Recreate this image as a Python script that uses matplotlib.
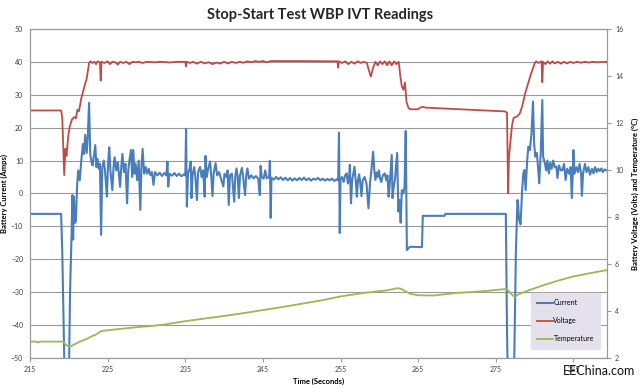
import numpy as np
import matplotlib.pyplot as plt

plt.rcParams['font.family'] = ['Lato', 'DejaVu Sans']

# current (A), left axis
cur_t = [215.0, 219.0, 219.15, 219.3, 219.45, 220.0, 220.15, 220.35, 220.45, 220.55, 220.65, 220.75, 220.9,
         221.05, 221.2, 221.4, 221.6, 221.8, 221.95, 222.1, 222.3, 222.45, 222.6, 222.75, 222.9, 223.05, 223.2,
         223.4, 223.55, 223.7, 223.85, 224.0, 224.15, 224.3, 224.5, 224.65, 224.9, 225.05, 225.2, 225.35, 225.6,
         225.75, 225.9, 226.1, 226.3, 226.6, 226.75, 226.9, 227.1, 227.3, 227.5, 227.65, 227.8, 228.0, 228.15,
         228.3, 228.45, 228.6, 228.8, 229.0, 229.2, 229.35, 229.5, 229.7, 229.9, 230.1, 230.3, 230.5, 230.7,
         230.9, 231.1, 231.4, 231.7, 232.0, 232.3, 232.55, 232.7, 232.8, 232.95, 233.3, 233.6, 233.9, 234.2,
         234.5, 234.8, 235.0, 235.1, 235.2, 235.35, 235.55, 235.7, 235.8, 235.95, 236.15, 236.3, 236.5, 236.65,
         236.9, 237.1, 237.3, 237.5, 237.6, 237.75, 237.95, 238.2, 238.35, 238.5, 238.65, 238.9, 239.1, 239.35,
         239.6, 239.9, 240.05, 240.3, 240.45, 240.6, 240.75, 241.0, 241.3, 241.45, 241.6, 241.75, 241.9, 242.05,
         242.3, 242.45, 242.7, 242.85, 243.0, 243.2, 243.5, 243.8, 244.1, 244.4, 244.6, 244.7, 244.85, 245.1,
         245.3, 245.5, 245.8, 245.9, 246.0, 246.1, 246.4, 246.7, 247.0, 247.3, 247.6, 247.9, 248.2, 248.5,
         248.8, 249.1, 249.4, 249.7, 250.0, 250.3, 250.6, 250.9, 251.2, 251.5, 251.8, 252.1, 252.4, 252.7,
         253.0, 253.3, 253.6, 253.9, 254.2, 254.5, 254.7, 254.8, 254.9, 255.0, 255.2, 255.4, 255.6, 255.8,
         255.95, 256.1, 256.2, 256.35, 256.5, 256.8, 257.0, 257.1, 257.25, 257.4, 257.55, 257.7, 257.85, 258.1,
         258.35, 258.6, 258.8, 258.95, 259.2, 259.35, 259.5, 259.65, 259.8, 259.95, 260.1, 260.25, 260.45,
         260.7, 260.9, 261.05, 261.2, 261.35, 261.6, 261.7, 261.85, 262.0, 262.3, 262.45, 262.6, 262.75, 262.9,
         263.1, 263.25, 263.4, 263.55, 263.8, 264.0, 265.5, 265.6, 268.4, 268.5, 276.3, 276.35, 276.45, 276.55,
         277.35, 277.6, 277.8, 277.9, 278.0, 278.2, 278.4, 278.55, 278.7, 278.85, 279.05, 279.2, 279.4, 279.6,
         279.8, 279.95, 280.1, 280.3, 280.45, 280.6, 280.8, 281.0, 281.1, 281.3, 281.5, 281.65, 281.85, 282.0,
         282.2, 282.4, 282.6, 282.8, 282.95, 283.15, 283.4, 283.6, 283.8, 284.0, 284.2, 284.45, 284.65, 284.8,
         284.95, 285.0, 285.15, 285.4, 285.6, 285.8, 286.0, 286.1, 286.25, 286.5, 286.7, 286.95, 287.15, 287.4,
         287.6, 287.8, 288.0, 288.2, 288.4, 288.6, 288.8, 289.0, 289.3]
cur_a = [-6.2, -6.2, -18, -37, -56, -56, -30, -12, -0.5, -14, -1, -9, -8.5,
         2, 7, 4, 10, 15, 12, 17.8, 12.3, 18, 27.5, 12, 9.7, 8.5, 11,
         14.7, 8, 10.5, 7.5, 9, -12.6, 8, 10, 7, -1, 9, 14, 7, 1,
         8, 11, 7, 9.5, 2, 8, 12, 6.5, 9, -3, 7, 10, 13.2, 5,
         13.2, 6, 9, 4, 10, -5, 8, 13.5, 6, 8, 6, 7.5, 5.6, 6.5,
         2.6, 6.5, 5.5, 6.3, 5.3, 6.2, 5.5, 9.7, 2.1, 6, 5.4, 6.2, 5.3, 6,
         5.2, 5.8, 5.5, 19.6, -4, 6, 7.5, 9.7, -1.4, 6, 8, 5, -2, 6.5,
         8.1, 5, 7, -1, 11.4, 5, 7.5, 9.7, 5, -0.8, 6, 9.2, 5.5, 6.5,
         4.5, 2.1, 6, 5, 7, -3.5, 5.5, 6, -2.5, 5.5, 7.6, 5, -1.4, 5.5,
         7.8, 5, -0.5, 5.5, 7.6, 4.5, 5.5, 4.6, 5.3, 4.4, -0.5, 8.4, 5, 4.5,
         7, 4.6, 5, 9.9, -7.4, 4.8, 4.2, 5, 4.3, 4.9, 4.1, 4.8, 4.0, 4.7,
         3.9, 4.6, 4.0, 4.7, 4.1, 4.8, 4.0, 4.6, 3.9, 4.5, 4.2, 4.7, 4.0, 4.5,
         3.9, 4.4, 4.0, 4.5, 3.8, 4.3, 4.0, 18.5, -12, 4.2, 5, 3.5, 5.5, 6.1,
         3, 4.5, 8.7, -3, 4, 8.1, 3, -1, 4, 5.8, 3, -0.8, 4, 5,
         3, -4.5, 3, 6.5, 12.7, 7, 4.1, 6.4, 5, 7, 4.5, 3.5, 5.5,
         6.1, 4, 5.5, -1, 3, 11.7, -1.4, 2, 4, 12.3, -5.5, -2, -8.9, 1,
         0, 2, 19, -17.2, -16.5, -16.2, -16.3, -6.8, -6.8, -6.2, -6.2, -18, -41, -56,
         -56, -17.2, -2, -3.8, -8, -9.4, 1, 6.1, 7.1, 1, 10, 14.2, 13.2, 18,
         27.9, 15, 11.2, 12.3, 8, 3.1, 12.3, 28.4, 11.2, 9.5, 7, 10, 6.1, 9.3,
         7.5, 10, 8, 8.2, 4.7, 8.5, 7, 7.1, 9, 4.1, 7.5, 6, 8, -1.4,
         7, 13.2, 6, 8, 6.5, 9, 6, -0.7, 6, 9, 6.5, 8, 5.7, 7.5,
         6.1, 8, 6.5, 7.5, 6.8, 7.6, 6.5, 7.3, 7.0]

# voltage (V), right axis
volt_t = [215.0, 219.0, 219.15, 219.25, 219.4, 219.55, 219.7, 219.9, 220.1, 220.4, 220.7, 220.9, 221.1, 221.3,
          221.6, 222.0, 222.3, 222.6, 222.8, 223.0, 223.3, 223.5, 223.7, 224.0, 224.1, 224.2, 224.6, 225.0,
          225.3, 225.6, 226.0, 226.3, 226.6, 227.0, 227.4, 227.8, 228.2, 228.6, 229.0, 229.5, 230.0, 231.0,
          232.0, 233.0, 234.0, 235.0, 235.1, 235.2, 235.6, 236.0, 236.5, 237.0, 237.5, 238.0, 238.5, 239.0,
          239.5, 240.0, 240.5, 241.0, 241.5, 242.0, 242.5, 243.0, 243.5, 244.0, 244.5, 245.0, 245.5, 246.0,
          247.0, 250.0, 254.6, 254.7, 254.8, 255.2, 255.6, 256.0, 256.4, 256.8, 257.2, 257.6, 258.0, 258.4,
          258.6, 258.9, 259.2, 259.5, 259.8, 260.1, 260.4, 260.7, 261.0, 261.3, 261.6, 261.9, 262.2, 262.5,
          262.7, 262.9, 263.1, 263.3, 263.5, 263.75, 264.0, 265.0, 265.3, 265.6, 266.0, 276.2, 276.45, 276.6,
          276.7, 276.9, 277.1, 277.3, 277.8, 278.1, 278.4, 278.8, 279.5, 280.0, 280.2, 280.5, 280.9, 281.0,
          281.1, 281.4, 281.7, 282.0, 282.3, 282.6, 283.0, 283.4, 283.8, 284.2, 284.6, 285.0, 285.5, 286.0,
          286.5, 287.0, 287.5, 288.0, 289.3]
volt_v = [12.53, 12.53, 12.2, 11.2, 9.78, 10.9, 10.6, 11.4, 11.84, 12.15, 12.25, 12.2, 12.56, 12.5,
          13.05, 13.55, 13.9, 14.54, 14.62, 14.55, 14.6, 14.5, 14.62, 14.58, 13.8, 14.6, 14.55, 14.62,
          14.5, 14.6, 14.58, 14.48, 14.6, 14.55, 14.6, 14.5, 14.6, 14.58, 14.6, 14.55, 14.6, 14.58,
          14.6, 14.57, 14.6, 14.6, 14.4, 14.6, 14.55, 14.6, 14.52, 14.6, 14.53, 14.58, 14.5, 14.57,
          14.52, 14.6, 14.53, 14.6, 14.55, 14.6, 14.56, 14.62, 14.58, 14.63, 14.6, 14.63, 14.58, 14.63,
          14.63, 14.63, 14.62, 14.35, 14.62, 14.55, 14.62, 14.5, 14.6, 14.52, 14.62, 14.55, 14.6, 14.55,
          14.3, 13.97, 14.35, 14.6, 14.45, 14.62, 14.5, 14.62, 14.45, 14.62, 14.45, 14.62, 14.5, 14.6,
          14.0, 13.55, 13.41, 13.72, 12.9, 12.64, 12.58, 12.58, 12.66, 12.68, 12.65, 12.49, 12.43, 9.0,
          10.54, 11.24, 11.9, 12.21, 12.29, 12.4, 12.7, 13.27, 14.04, 14.52, 14.62, 14.55, 14.62, 13.73,
          14.6, 14.5, 14.62, 14.52, 14.62, 14.53, 14.6, 14.52, 14.6, 14.53, 14.6, 14.55, 14.6, 14.56,
          14.6, 14.57, 14.6, 14.58, 14.6]

# temperature (C), right axis
temp_t = [215.0, 215.8, 216.0, 216.3, 219.3, 219.6, 220.1, 220.6, 221.4, 222.2, 222.9, 223.5, 224.2, 225.5,
          227.2, 229.0, 230.5, 232.4, 235.0, 237.5, 240.0, 242.5, 245.0, 247.5, 250.0, 252.5, 255.0, 258.0,
          261.0, 262.3, 262.8, 263.3, 264.0, 265.0, 267.0, 270.0, 273.0, 276.4, 277.0, 277.4, 278.0, 279.4,
          281.0, 283.0, 285.0, 287.0, 289.3]
temp_c = [2.70, 2.70, 2.66, 2.70, 2.70, 2.56, 2.48, 2.56, 2.70, 2.80, 2.92, 3.0, 3.15, 3.2,
          3.26, 3.32, 3.36, 3.43, 3.57, 3.68, 3.79, 3.91, 4.04, 4.17, 4.31, 4.45, 4.62, 4.77,
          4.88, 4.97, 4.95, 4.85, 4.73, 4.67, 4.66, 4.77, 4.83, 4.94, 4.73, 4.60, 4.72, 4.90,
          5.08, 5.29, 5.47, 5.60, 5.74]

fig = plt.figure(figsize=(6.4, 3.85), dpi=100)
ax = fig.add_axes([0.047, 0.070, 0.901, 0.855])
ax2 = ax.twinx()

grey = '#9a9a9a'
l1, = ax.plot(cur_t, cur_a, color='#4A7EBB', lw=1.5, label='Current')
l2, = ax2.plot(volt_t, volt_v, color='#BE4B48', lw=1.3, label='Voltage')
l3, = ax2.plot(temp_t, temp_c, color='#98B954', lw=1.3, label='Temperature')

ax.set_xlim(215, 289.3)
ax.set_ylim(-50, 50)
ax2.set_ylim(2, 16)
ax.set_xticks(np.arange(215, 290, 10))
ax.set_yticks(np.arange(-50, 51, 10))
ax2.set_yticks(np.arange(2, 17, 2))
ax.grid(axis='y', color=grey, lw=0.8)
ax.set_axisbelow(True)

for a in (ax, ax2):
    for s in a.spines.values():
        s.set_color(grey)
        s.set_linewidth(0.8)
ax.tick_params(axis='y', length=0, labelsize=5, labelcolor='#404040', pad=5)
ax.tick_params(axis='x', length=3, color=grey, labelsize=5, labelcolor='#404040', pad=3)
ax2.tick_params(axis='y', length=3, color=grey, labelsize=5, labelcolor='#404040', pad=3)

ax.set_xlabel('Time (Seconds)', fontsize=5.5, fontweight='bold', labelpad=3)
ax.set_ylabel('Battery Current (Amps)', fontsize=5.5, fontweight='bold', labelpad=2)
ax2.set_ylabel('Battery Voltage (Volts) and Temperature (°C)', fontsize=5.5, fontweight='bold', labelpad=6)
fig.suptitle('Stop-Start Test WBP IVT Readings', fontsize=10.5, fontweight='bold', color='#262626', y=0.98)

leg = ax2.legend([l1, l2, l3], ['Current', 'Voltage', 'Temperature'], loc='lower left',
                 bbox_to_anchor=(0.863, 0.018), fontsize=5, labelspacing=1.6, handlelength=2.2,
                 handletextpad=0.1, borderpad=0.9, frameon=True, fancybox=False)
leg.get_frame().set_facecolor('#E4E1EC')
leg.get_frame().set_edgecolor('#E4E1EC')
leg.get_frame().set_alpha(1)

fig.text(0.879, 0.025, 'EEChina.com', fontsize=9, color='#111111')

plt.savefig('out.png', dpi=100)
plt.close()
